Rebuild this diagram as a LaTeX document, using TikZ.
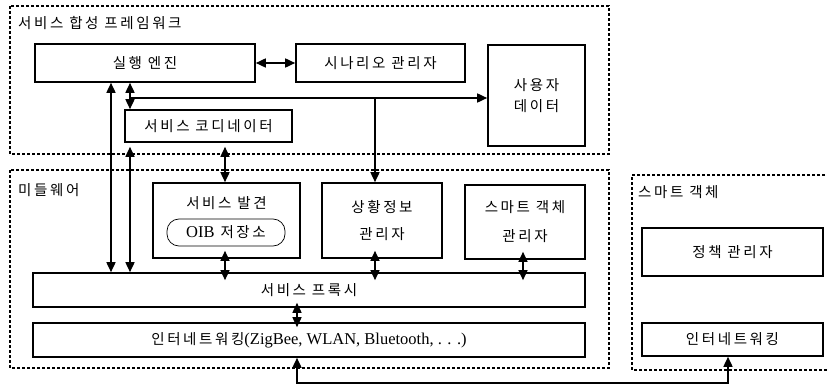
\documentclass[tikz,border=0pt]{standalone}
\usepackage{fontspec}
\setmainfont{Liberation Serif}
\newfontfamily\kr[LetterSpace=18]{Noto Sans CJK KR}
\newcommand\latn{\rmfamily\fontsize{16.5}{18}\selectfont}
\usetikzlibrary{arrows.meta,calc}
\begin{document}
\begin{tikzpicture}[x=1pt,y=-1pt,
  kr/.style={font=\kr\fontsize{14.5}{16}\selectfont},
  box/.style={draw, line width=1.6pt, inner sep=0pt, kr},
  grp/.style={draw, line width=1.3pt, dash pattern=on 3pt off 2pt},
  lbl/.style={inner sep=0pt, kr, anchor=west},
  ln/.style={line width=1.6pt},
  both/.style={ln, {Triangle[length=10pt,width=9pt]}-{Triangle[length=10pt,width=9pt]}},
  fwd/.style={ln, -{Triangle[length=10pt,width=9pt]}},
  poke/.style={shorten <=-#1, shorten >=-#1}
]
\fill[white] (0,0) rectangle (827,385);
\useasboundingbox (0,0) rectangle (827,385);

% groups
\draw[grp] (10,6) rectangle (609,154);
\draw[grp] (10,170) rectangle (609,368);
\draw[grp] (835,175) -| (632,370) -- (835,370);

\node[lbl] (t1) at (18,23) {서비스 합성 프레임워크};
\node[lbl] (t2) at (18,190) {미들웨어};
\node[lbl] (t3) at (638,192) {스마트 객체};

% boxes
\node[box, minimum width=220pt, minimum height=38pt] (engine) at (145,63) {실행 엔진};
\node[box, minimum width=169pt, minimum height=38pt] (scen) at (380.5,63) {시나리오 관리자};
\node[box, minimum width=97pt, minimum height=101pt, align=center, font=\kr\fontsize{14.5}{21}\selectfont] (user) at (536.5,95.5) {사용자\\데이터};
\node[box, minimum width=167pt, minimum height=32pt] (coord) at (208.5,126) {서비스 코디네이터};
\node[box, minimum width=147pt, minimum height=75pt] (disc) at (226.5,220.5) {};
\node[kr, inner sep=0pt] (disctxt) at (226.5,203) {서비스 발견};
\node[draw, line width=0.7pt, rounded corners=12pt, minimum width=118pt, minimum height=27pt, inner sep=0pt, kr] (oib) at (226,232.5) {{\latn OIB} 저장소};
\node[box, minimum width=120pt, minimum height=75pt, align=center, font=\kr\fontsize{14.5}{27}\selectfont] (ctx) at (382,220.5) {상황정보\\관리자};
\node[box, minimum width=120pt, minimum height=74pt, align=center, font=\kr\fontsize{14.5}{29}\selectfont] (smgr) at (525,222) {스마트 객체\\관리자};
\node[box, minimum width=552pt, minimum height=34pt] (proxy) at (309,290) {서비스 프록시};
\node[box, minimum width=552pt, minimum height=34pt] (inet) at (309,340) {인터네트워킹{\latn(ZigBee, WLAN, Bluetooth, . . .)}};
\node[box, minimum width=181pt, minimum height=48pt] (policy) at (732.5,252) {정책 관리자};
\node[box, minimum width=181pt, minimum height=33pt] (sinet) at (732.5,339.5) {인터네트워킹};

% helper coordinates
\coordinate (x110) at (111,0);
\coordinate (x130) at (130,0);
\coordinate (j1) at (130,98);
\coordinate (j2) at (375,98);
\coordinate (x225) at (225,0);
\coordinate (x375) at (375,0);
\coordinate (x523) at (523,0);
\coordinate (x297) at (297,0);
\coordinate (b1) at (297,383);
\coordinate (b2) at (728,383);

% connectors
\draw[both] (engine.east) -- (scen.west);
\draw[both] (engine.south -| x110) -- (proxy.north -| x110);
\draw[both] (engine.south -| x130) -- (coord.north -| x130);
\draw[fwd] (j1) -- (user.west |- j1);
\draw[fwd] (j2) -- (ctx.north -| j2);
\draw[both, shorten <=4pt] (coord.south -| x130) -- (proxy.north -| x130);
\draw[both, shorten <=4pt] (coord.south -| x225) -- (disc.north -| x225);
\draw[both, poke=8pt] (disc.south -| x225) -- (proxy.north -| x225);
\draw[both, poke=8pt] (ctx.south -| x375) -- (proxy.north -| x375);
\draw[both, poke=8pt] (smgr.south -| x523) -- (proxy.north -| x523);
\draw[both, poke=5pt] (proxy.south -| x297) -- (inet.north -| x297);
\draw[both] (inet.south -| b1) -- (b1) -- (b2) -- (sinet.south -| b2);
\end{tikzpicture}
\end{document}
